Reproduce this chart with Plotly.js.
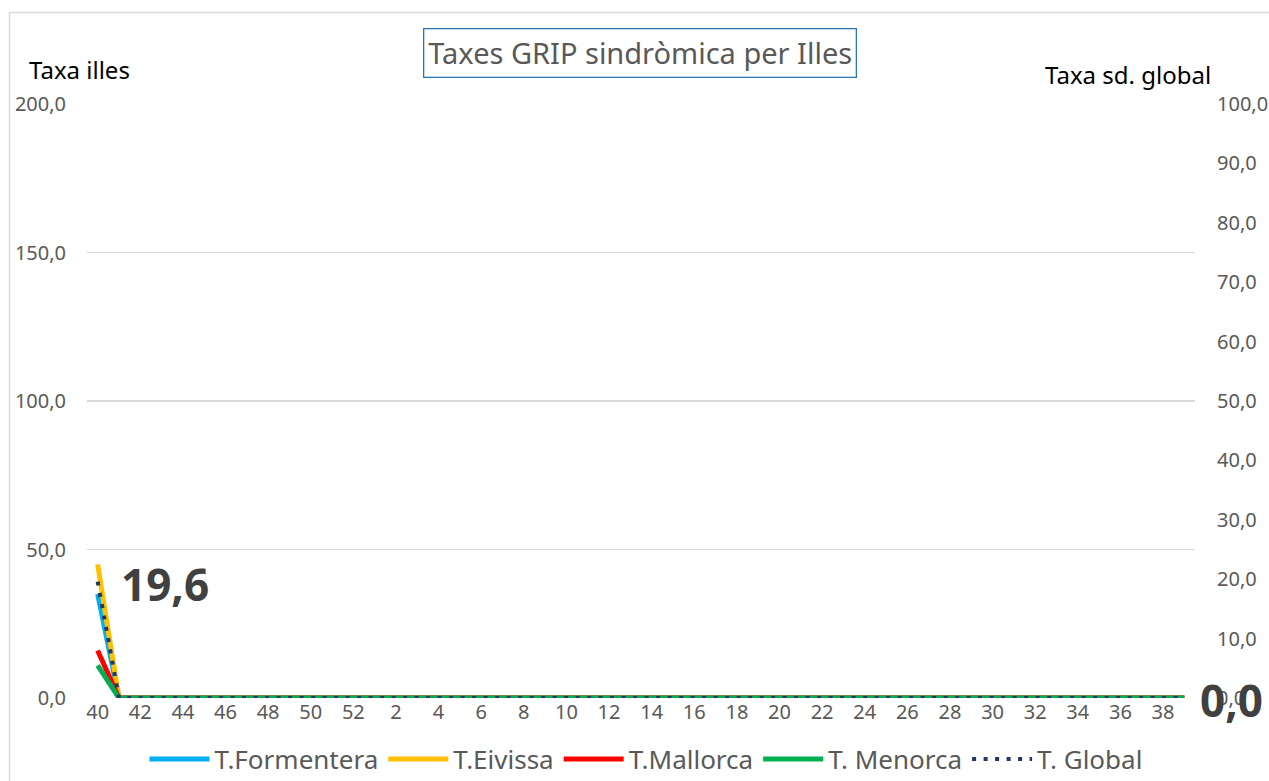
<!DOCTYPE html>
<html>
<head>
<meta charset="utf-8">
<script src="https://cdn.plot.ly/plotly-3.0.1.min.js"></script>
<style>
html, body { margin: 0; padding: 0; background: #ffffff; }
#chart { width: 1269px; height: 781px; }
</style>
</head>
<body>
<div id="chart"></div>
<script>
// Week categories (season week 40 to week 39)
const weeks = ['40','41','42','43','44','45','46','47','48','49','50','51','52',
  '1','2','3','4','5','6','7','8','9','10','11','12','13','14','15','16','17','18','19','20',
  '21','22','23','24','25','26','27','28','29','30','31','32','33','34','35','36','37','38','39'];

const formentera = [35, 0, 0, 0, 0, 0, 0, 0, 0, 0, 0, 0, 0,
  0, 0, 0, 0, 0, 0, 0, 0, 0, 0, 0, 0, 0, 0, 0, 0, 0, 0, 0, 0,
  0, 0, 0, 0, 0, 0, 0, 0, 0, 0, 0, 0, 0, 0, 0, 0, 0, 0, 0];
const eivissa = [45, 0, 0, 0, 0, 0, 0, 0, 0, 0, 0, 0, 0,
  0, 0, 0, 0, 0, 0, 0, 0, 0, 0, 0, 0, 0, 0, 0, 0, 0, 0, 0, 0,
  0, 0, 0, 0, 0, 0, 0, 0, 0, 0, 0, 0, 0, 0, 0, 0, 0, 0, 0];
const mallorca = [16, 0, 0, 0, 0, 0, 0, 0, 0, 0, 0, 0, 0,
  0, 0, 0, 0, 0, 0, 0, 0, 0, 0, 0, 0, 0, 0, 0, 0, 0, 0, 0, 0,
  0, 0, 0, 0, 0, 0, 0, 0, 0, 0, 0, 0, 0, 0, 0, 0, 0, 0, 0];
const menorca = [11, 0, 0, 0, 0, 0, 0, 0, 0, 0, 0, 0, 0,
  0, 0, 0, 0, 0, 0, 0, 0, 0, 0, 0, 0, 0, 0, 0, 0, 0, 0, 0, 0,
  0, 0, 0, 0, 0, 0, 0, 0, 0, 0, 0, 0, 0, 0, 0, 0, 0, 0, 0];
const globalRate = [19.6, 0, 0, 0, 0, 0, 0, 0, 0, 0, 0, 0, 0,
  0, 0, 0, 0, 0, 0, 0, 0, 0, 0, 0, 0, 0, 0, 0, 0, 0, 0, 0, 0,
  0, 0, 0, 0, 0, 0, 0, 0, 0, 0, 0, 0, 0, 0, 0, 0, 0, 0, 0];

const seriesNames = ['T.Formentera', 'T.Eivissa', 'T.Mallorca', 'T. Menorca', 'T. Global'];
const leftTicks = [0, 50, 100, 150, 200];
const rightTicks = [0, 10, 20, 30, 40, 50, 60, 70, 80, 90, 100];

const fmt = v => v.toFixed(1).replace('.', ',');

const FONT = 'Noto Sans, Open Sans, sans-serif';

function lineTrace(name, y, color) {
  return {
    type: 'scatter', mode: 'lines', name: name, x: weeks, y: y,
    line: { color: color, width: 5 }, xaxis: 'x', yaxis: 'y'
  };
}

const traces = [
  lineTrace(seriesNames[0], formentera, '#00b0f0'),
  lineTrace(seriesNames[1], eivissa, '#ffc000'),
  lineTrace(seriesNames[2], mallorca, '#ff0000'),
  lineTrace(seriesNames[3], menorca, '#00b050'),
  {
    type: 'scatter', mode: 'lines', name: seriesNames[4], x: weeks, y: globalRate,
    yaxis: 'y2', line: { color: '#203864', width: 4, dash: '4px,7.5px' }
  }
];

const L = 87, R = 1195, T = 104, B = 698;
const pw = R - L, ph = B - T;
const px = x => (x - L) / pw;
const py = y => (B - y) / ph;

// Data labels for first and last global value, anchored to data points (category index)
const lastIdx = globalRate.length - 1;
const labelFont = { family: FONT, size: 44, color: '#404040', weight: 'bold' };
const dataLabels = [
  { xref: 'x', yref: 'y2', x: 0, y: globalRate[0], text: fmt(globalRate[0]),
    xanchor: 'left', yanchor: 'middle', xshift: 21, yshift: -2, showarrow: false, font: labelFont },
  { xref: 'x', yref: 'y2', x: lastIdx, y: globalRate[lastIdx], text: fmt(globalRate[lastIdx]),
    xanchor: 'left', yanchor: 'middle', xshift: 14, yshift: -2, showarrow: false, font: labelFont }
];

const layout = {
  width: 1269, height: 781,
  margin: { l: L, r: 1269 - R, t: T, b: 781 - B, pad: 0, autoexpand: false },
  paper_bgcolor: '#ffffff', plot_bgcolor: '#ffffff',
  font: { family: FONT, color: '#595959' },
  showlegend: true,
  legend: {
    orientation: 'h', x: px(646), xanchor: 'center', y: py(759), yanchor: 'middle',
    font: { family: FONT, size: 26, color: '#595959' },
    itemwidth: 60, tracegroupgap: 0, bgcolor: 'rgba(0,0,0,0)'
  },
  xaxis: {
    type: 'category', range: [-0.5, weeks.length - 0.5],
    tickmode: 'linear', tick0: 0, dtick: 2,
    showgrid: false, zeroline: false, showline: false, ticks: '',
    automargin: false,
    tickfont: { family: FONT, size: 20, color: '#595959' },
    fixedrange: true
  },
  yaxis: {
    range: [0, 200], tickvals: leftTicks, ticktext: leftTicks.map(fmt),
    showgrid: true, gridcolor: '#d9d9d9', gridwidth: 1.3,
    zeroline: false, showline: false, ticks: '',
    automargin: false,
    ticklabelstandoff: 20,
    tickfont: { family: FONT, size: 20, color: '#595959' },
    fixedrange: true
  },
  yaxis2: {
    overlaying: 'y', side: 'right', range: [0, 100],
    tickvals: rightTicks, ticktext: rightTicks.map(fmt),
    showgrid: false, zeroline: false, showline: false, ticks: '',
    automargin: false,
    ticklabelstandoff: 21,
    tickfont: { family: FONT, size: 20, color: '#595959' },
    fixedrange: true
  },
  annotations: [
    {
      xref: 'paper', yref: 'paper', x: px(640), y: py(53),
      xanchor: 'center', yanchor: 'middle', showarrow: false,
      text: 'Taxes GRIP sindròmica per Illes',
      font: { family: FONT, size: 29, color: '#595959' },
      bordercolor: '#2e75b6', borderwidth: 1.3, borderpad: 4, bgcolor: '#ffffff'
    },
    {
      xref: 'paper', yref: 'paper', x: px(27), y: py(70),
      xanchor: 'left', yanchor: 'middle', showarrow: false,
      text: 'Taxa illes', font: { family: FONT, size: 24, color: '#000000' }
    },
    {
      xref: 'paper', yref: 'paper', x: px(1213), y: py(75),
      xanchor: 'right', yanchor: 'middle', showarrow: false,
      text: 'Taxa sd. global', font: { family: FONT, size: 24, color: '#000000' }
    }
  ].concat(dataLabels),
  shapes: [
    {
      type: 'rect', xref: 'paper', yref: 'paper', layer: 'below',
      x0: px(9.5), x1: px(1275), y0: py(790), y1: py(12.5),
      line: { color: '#d9d9d9', width: 1.5 }, fillcolor: 'rgba(0,0,0,0)'
    }
  ]
};

Plotly.newPlot('chart', traces, layout, { displayModeBar: false, staticPlot: true });
</script>
</body>
</html>
